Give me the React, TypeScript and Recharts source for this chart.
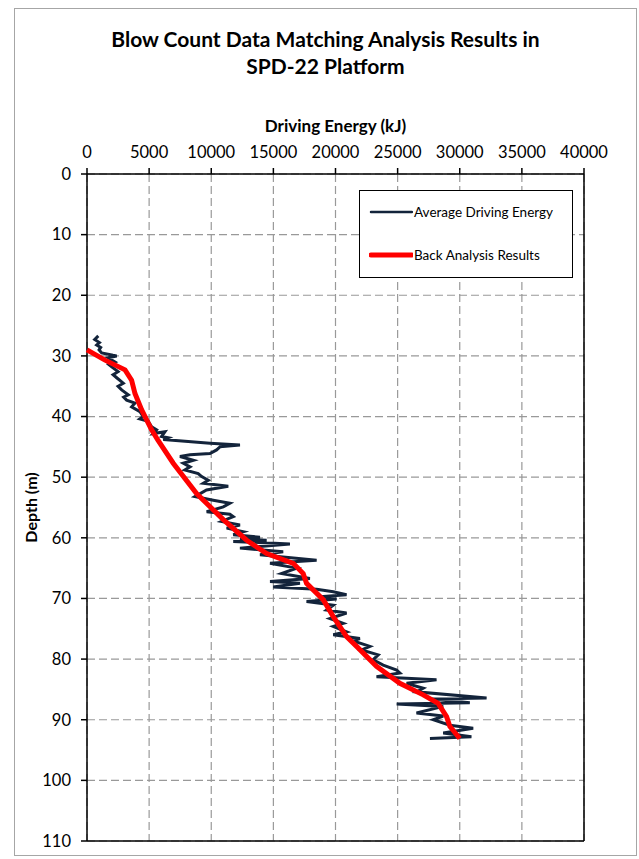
import React from 'react';
import { ScatterChart, Scatter, XAxis, YAxis, CartesianGrid, ReferenceLine } from 'recharts';

const titleLines = ['Blow Count Data Matching Analysis Results in', 'SPD-22 Platform'];
const xAxisTitle = 'Driving Energy (kJ)';
const yAxisTitle = 'Depth (m)';
const seriesNames = ['Average Driving Energy', 'Back Analysis Results'];
const seriesColors = ['#13243b', '#ff0000'];

const xTicks = [0, 5000, 10000, 15000, 20000, 25000, 30000, 35000, 40000];
const yTicks = [0, 10, 20, 30, 40, 50, 60, 70, 80, 90, 100, 110];

// Average Driving Energy (kJ) vs depth (m)
const avgEnergy = [
  910, 620, 1000, 780, 1100, 970, 1180, 2090, 2390, 1690, 2250, 1750, 1990, 2500, 2100, 2390, 2920, 2500, 2790, 3320, 2950, 3190, 3860, 3590, 4260,
  4530, 4250, 4930, 5200, 5600, 5330, 6270, 6000, 6520, 6140,
  9895, 12310, 10700, 10430, 9895, 8290, 7480, 8560, 7750, 8290, 7880, 8950, 9230, 9760, 9360, 11370, 9620,
  8690, 10160, 11500, 10970, 9630, 11500, 11770, 10830, 12310, 11240, 12580, 11770, 13920, 12310,
  14460, 11770, 16330, 12310, 15790, 13920, 18480, 14730, 16870, 15660, 17940, 14730, 17140, 14990, 18480,
  19820, 20890, 18750, 20090, 17670, 19820, 19280, 20890, 19550, 20620, 19820, 20890, 19820, 21960, 21430,
  22770, 22100, 23440, 23030, 23840, 24920, 25180, 23300, 28130, 25720, 27060, 26520, 32160, 27600, 30810, 24920,
  28670, 26520, 28670, 27870, 29200, 31080, 28670, 30940, 27600,
];
const avgDepth = [
  26.7, 27.3, 27.8, 28.2, 28.6, 29.0, 29.5, 29.9, 30.0, 30.3, 31.0, 31.4, 31.8, 32.6, 33.1, 33.6, 34.5, 35.0, 35.6, 36.4, 36.8, 37.3, 37.8, 38.4, 39.2,
  40.0, 40.4, 40.8, 41.7, 42.2, 42.8, 42.5, 43.3, 43.5, 43.8,
  44.4, 44.7, 45.0, 45.5, 46.1, 46.3, 46.6, 47.2, 47.7, 48.3, 48.8, 49.4, 49.9, 50.5, 51.0, 51.5, 52.1,
  53.2, 53.8, 54.3, 54.9, 55.7, 56.1, 56.5, 57.3, 57.9, 58.4, 59.0, 59.5, 59.9, 60.2,
  60.4, 60.6, 61.0, 61.7, 62.3, 62.8, 63.7, 64.2, 65.0, 65.9, 66.7, 67.2, 67.5, 68.1, 68.5,
  68.9, 69.4, 69.7, 70.1, 70.5, 71.1, 71.9, 72.4, 73.3, 74.1, 74.6, 75.5, 76.0, 76.6, 77.0,
  77.9, 78.5, 79.3, 80.1, 81.0, 81.8, 82.3, 82.9, 83.4, 84.0, 84.8, 85.4, 86.4, 86.6, 87.2, 87.4,
  87.8, 88.9, 89.4, 90.0, 90.9, 91.4, 92.2, 92.8, 93.1,
];

// Back Analysis Results
const backEnergy = [0, 1450, 3060, 3590, 3860, 4400, 5200, 5710, 6940, 8820, 10970, 12850, 14460, 16600, 17400, 17670, 19010, 19820, 20890, 21700, 23300, 25180, 27060, 28260, 28940, 29200, 30000];
const backDepth = [29.0, 30.7, 32.3, 34.0, 36.2, 38.9, 42.2, 43.9, 47.7, 52.7, 57.0, 60.4, 62.6, 64.2, 65.9, 67.5, 70.2, 73.0, 76.3, 77.9, 81.2, 84.0, 85.9, 87.3, 89.5, 91.1, 93.1];

const avgData = avgEnergy.map((e, i) => ({ e, d: avgDepth[i] }));
const backData = backEnergy.map((e, i) => ({ e, d: backDepth[i] }));

const FONT = 'Lato, "Open Sans", sans-serif';

const NoShape = () => <g />;

const LegendBox = () => (
  <div
    style={{
      position: 'absolute',
      left: 359,
      top: 190,
      width: 214,
      height: 88,
      border: '1.5px solid #000',
      background: '#fff',
      boxSizing: 'border-box',
      fontFamily: FONT,
      fontSize: 13.5,
      color: '#000',
    }}
  >
    {seriesNames.map((name, i) => (
      <div
        key={name}
        style={{ position: 'absolute', left: 9, top: i === 0 ? 12 : 55, display: 'flex', alignItems: 'center', whiteSpace: 'nowrap', lineHeight: '18px' }}
      >
        <svg width={44} height={8} style={{ display: 'block' }}>
          <line x1={2} y1={4} x2={43} y2={4} stroke={seriesColors[i]} strokeWidth={i === 0 ? 2.5 : 5} strokeLinecap="round" />
        </svg>
        <span style={{ marginLeft: 1 }}>{name}</span>
      </div>
    ))}
  </div>
);

export default function App() {
  return (
    <div style={{ position: 'absolute', left: 0, top: 0, width: 639, height: 859, background: '#fff', fontFamily: FONT }}>
      <div
        style={{
          position: 'absolute',
          left: 14,
          top: 8,
          width: 623,
          height: 848,
          border: '1px solid #a6a6a6',
          boxSizing: 'border-box',
        }}
      />
      {titleLines.map((t, i) => (
        <div
          key={t}
          style={{
            position: 'absolute',
            left: 0,
            width: 651,
            top: i === 0 ? 26 : 53,
            textAlign: 'center',
            fontWeight: 700,
            fontSize: 21,
            lineHeight: '26px',
            color: '#000',
          }}
        >
          {t}
        </div>
      ))}
      <div style={{ position: 'absolute', left: 0, top: 0 }}>
        <ScatterChart width={639} height={859} margin={{ top: 104, right: 55, bottom: 18, left: 0 }}>
          <CartesianGrid stroke="#999" strokeDasharray="8 4" strokeWidth={1.2} />
          <XAxis
            type="number"
            dataKey="e"
            orientation="top"
            domain={[0, 40000]}
            ticks={xTicks}
            interval={0}
            height={70}
            axisLine={{ stroke: '#000', strokeWidth: 1.5 }}
            tickLine={{ stroke: '#000', strokeWidth: 1.5 }}
            tickSize={6}
            tickMargin={10}
            tick={{ fill: '#000', fontSize: 16.5, fontFamily: FONT }}
            label={{
              content: (p: any) => {
                const vb = p.viewBox || {};
                return (
                  <text x={vb.x + vb.width / 2} y={vb.y + 28} textAnchor="middle" fontWeight={700} fontSize={17} fill="#000" fontFamily={FONT}>
                    {xAxisTitle}
                  </text>
                );
              },
            }}
          />
          <YAxis
            type="number"
            dataKey="d"
            domain={[0, 110]}
            reversed
            ticks={yTicks}
            interval={0}
            width={87}
            axisLine={{ stroke: '#000', strokeWidth: 1.5 }}
            tickLine={{ stroke: '#000', strokeWidth: 1.5 }}
            tickSize={6}
            tickMargin={10}
            tick={{ fill: '#000', fontSize: 16.5, fontFamily: FONT }}
            label={{
              content: (p: any) => {
                const vb = p.viewBox || {};
                const cx = vb.x + 33;
                const cy = vb.y + vb.height / 2;
                return (
                  <text x={cx} y={cy} transform={`rotate(-90 ${cx} ${cy})`} textAnchor="middle" dominantBaseline="middle" fontWeight={700} fontSize={16} fill="#000" fontFamily={FONT}>
                    {yAxisTitle}
                  </text>
                );
              },
            }}
          />
          <ReferenceLine x={40000} stroke="#000" strokeWidth={1.5} />
          <ReferenceLine y={110} stroke="#000" strokeWidth={1.5} />
          <Scatter
            name={seriesNames[0]}
            data={avgData}
            line={{ stroke: seriesColors[0], strokeWidth: 3 }}
            lineType="joint"
            shape={NoShape}
            isAnimationActive={false}
          />
          <Scatter
            name={seriesNames[1]}
            data={backData}
            line={{ stroke: seriesColors[1], strokeWidth: 5 }}
            lineType="joint"
            shape={NoShape}
            isAnimationActive={false}
          />
        </ScatterChart>
      </div>
      <LegendBox />
    </div>
  );
}
